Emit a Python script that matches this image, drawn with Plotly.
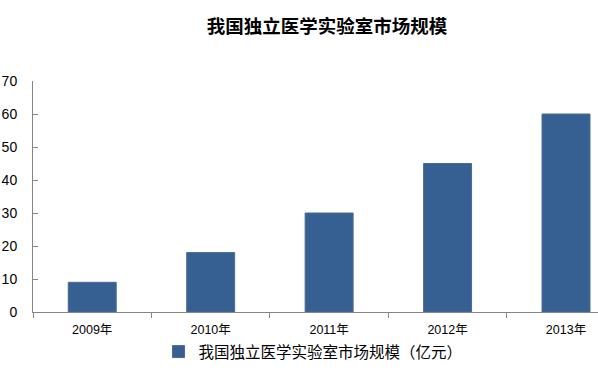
import plotly.graph_objects as go

categories = ["2009年", "2010年", "2011年", "2012年", "2013年"]
values = [9, 18, 30, 45, 60]
series_name = "我国独立医学实验室市场规模（亿元）"
title_text = "我国独立医学实验室市场规模"
y_ticks = [0, 10, 20, 30, 40, 50, 60, 70]

FONT = "Liberation Sans, Arial, Noto Sans CJK SC, sans-serif"
CJK = "Noto Sans CJK SC, Liberation Sans, sans-serif"
AXIS = "#868686"

fig = go.Figure()
fig.add_trace(go.Bar(
    x=categories, y=values, name=series_name,
    marker=dict(color="#376092", line=dict(color="#4a6b93", width=1)),
    width=0.405,
))

fig.update_layout(
    width=598, height=371,
    margin=dict(l=33, r=0, t=81, b=59, autoexpand=False),
    paper_bgcolor="white", plot_bgcolor="white",
    title=dict(text="<b>" + title_text + "</b>", x=(327 / 598), xanchor="center",
               y=1 - 27 / 371, yanchor="middle",
               font=dict(family=CJK, size=18.5, color="#000000")),
    showlegend=True,
    legend=dict(orientation="h", x=(313 - 33) / 565, xanchor="center",
                y=(312 - 352) / 231, yanchor="middle",
                font=dict(family=CJK, size=15.5, color="#000000"),
                itemwidth=30),
    bargap=0.6,
)
fig.update_xaxes(
    range=[-0.5, 4.27], showline=True, linecolor=AXIS, linewidth=1,
    ticks="outside", tickson="boundaries", ticklen=5, tickcolor=AXIS,
    ticklabelstandoff=6,
    tickfont=dict(family=FONT, size=12.5, color="#000000"),
    showgrid=False, zeroline=False, fixedrange=True, automargin=False,
)
fig.update_yaxes(
    range=[0, 70], tickvals=y_ticks, showline=True, linecolor=AXIS, linewidth=1,
    ticks="inside", ticklen=5, tickcolor=AXIS, ticklabelstandoff=12,
    tickfont=dict(family=FONT, size=14, color="#000000"),
    showgrid=False, zeroline=False, fixedrange=True, automargin=False,
)

fig.write_html("out.html", config={"displayModeBar": False},
               post_script="document.body.style.margin='0';document.body.style.overflow='hidden';")
